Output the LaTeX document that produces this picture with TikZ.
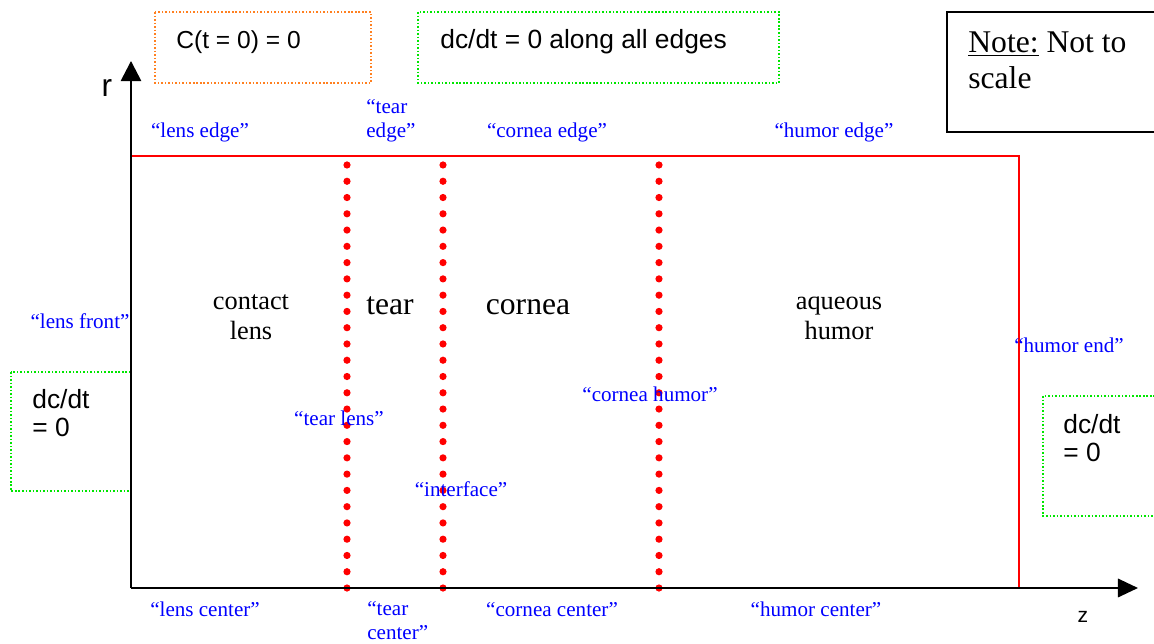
\documentclass[tikz,border=0pt]{standalone}
\usepackage{fontspec}
\setmainfont{Liberation Serif}
\setsansfont{Liberation Sans}
\usetikzlibrary{arrows.meta,positioning}
\definecolor{bcgreen}{RGB}{0,230,0}
\definecolor{icorange}{RGB}{255,128,32}

\tikzset{
  lbl/.style={text=blue,inner sep=0pt,font=\fontsize{12}{13.7}\selectfont,align=left},
  region/.style={inner sep=0pt,align=center,font=\fontsize{15}{17.6}\selectfont},
  bigregion/.style={inner sep=0pt,font=\fontsize{18}{21}\selectfont},
  cond/.style={inner sep=0pt,align=left,font=\sffamily\fontsize{15}{16.5}\selectfont},
  dotbox/.style={line width=0.8pt,dash pattern=on 0.9pt off 1.1pt}
}

\begin{document}
\begin{tikzpicture}[x=0.02cm,y=-0.02cm]
        \useasboundingbox (0,0) rectangle (1154,644);
        % condition boxes
        \draw[dotbox,icorange] (155,12) rectangle (371,83);
        \node[cond,anchor=base west,font=\sffamily\fontsize{14}{16}\selectfont] (ic) at (176,49) {C(t = 0) = 0};
        \draw[dotbox,bcgreen] (418,12) rectangle (779,83);
        \node[cond,anchor=base west] (bc) at (440,49) {dc/dt = 0 along all edges};
        \draw[dotbox,bcgreen] (11,372) rectangle (131,491);
        \node[cond,anchor=base west] (bcleft) at (32,437) {dc/dt\\= 0};
        \draw[dotbox,bcgreen] (1043,396) rectangle (1160,516);
        \node[cond,anchor=base west] (bcright) at (1063,462) {dc/dt\\= 0};
        \draw[line width=1.15pt] (947,12) rectangle (1160,132);
        \node[inner sep=0pt,anchor=base west,align=left,font=\fontsize{18}{21}\selectfont] (note) at (968,89) {\underline{Note:} Not to\\scale};
        % domain
        \coordinate (O) at (131,588);
        \coordinate (rtip) at (131,61);
        \coordinate (ztip) at (1138,588);
        \coordinate (tl) at (131,156);
        \coordinate (tr) at (1019,156);
        \coordinate (br) at (1019,588);
        \draw[red,line width=0.85pt] (tl) -- (tr) -- (br);
        \foreach \x in {347,443,659}
          \foreach \i in {0,...,26} \fill[red] (\x,{165+\i*16.27}) circle (2.05pt);
        \draw[line width=1.15pt,-{Triangle[length=11.4pt,width=11.5pt]}] (O) -- (rtip);
        \draw[line width=1.15pt,-{Triangle[length=11.4pt,width=10.5pt]}] (O) -- (ztip);
        \node[inner sep=0pt,font=\sffamily\fontsize{18}{20}\selectfont] (rlab) at (107,88) {r};
        \node[inner sep=0pt,font=\sffamily\fontsize{12}{14}\selectfont] (zlab) at (1083,617) {z};
        % layers
        \node[region,anchor=base] (lens) at (251,340) {contact\\lens};
        \node[bigregion,anchor=base] (tear) at (390,315) {tear};
        \node[bigregion,anchor=base] (cornea) at (528,315) {cornea};
        \node[region,anchor=base] (humor) at (839,340) {aqueous\\humor};
        % boundary names
        \node[lbl,anchor=base] (lensedge) at (200,138) {“lens edge”};
        \node[lbl,anchor=base west] (tearedge) at (366,138) {“tear\\edge”};
        \node[lbl,anchor=base] (corneaedge) at (547,138) {“cornea edge”};
        \node[lbl,anchor=base] (humoredge) at (834,138) {“humor edge”};
        \node[lbl,anchor=base] (lensfront) at (80,329) {“lens front”};
        \node[lbl,anchor=base] (tearlens) at (339,426) {“tear lens”};
        \node[lbl,anchor=base] (interface) at (461,497) {“interface”};
        \node[lbl,anchor=base] (corneahumor) at (650,402) {“cornea humor”};
        \node[lbl,anchor=base] (humorend) at (1069,353) {“humor end”};
        \node[lbl,anchor=base] (lenscenter) at (205,617) {“lens center”};
        \node[lbl,anchor=base west] (tearcenter) at (367,640) {“tear\\center”};
        \node[lbl,anchor=base] (corneacenter) at (552,617) {“cornea center”};
        \node[lbl,anchor=base] (humorcenter) at (816,617) {“humor center”};
      \end{tikzpicture}
\end{document}
